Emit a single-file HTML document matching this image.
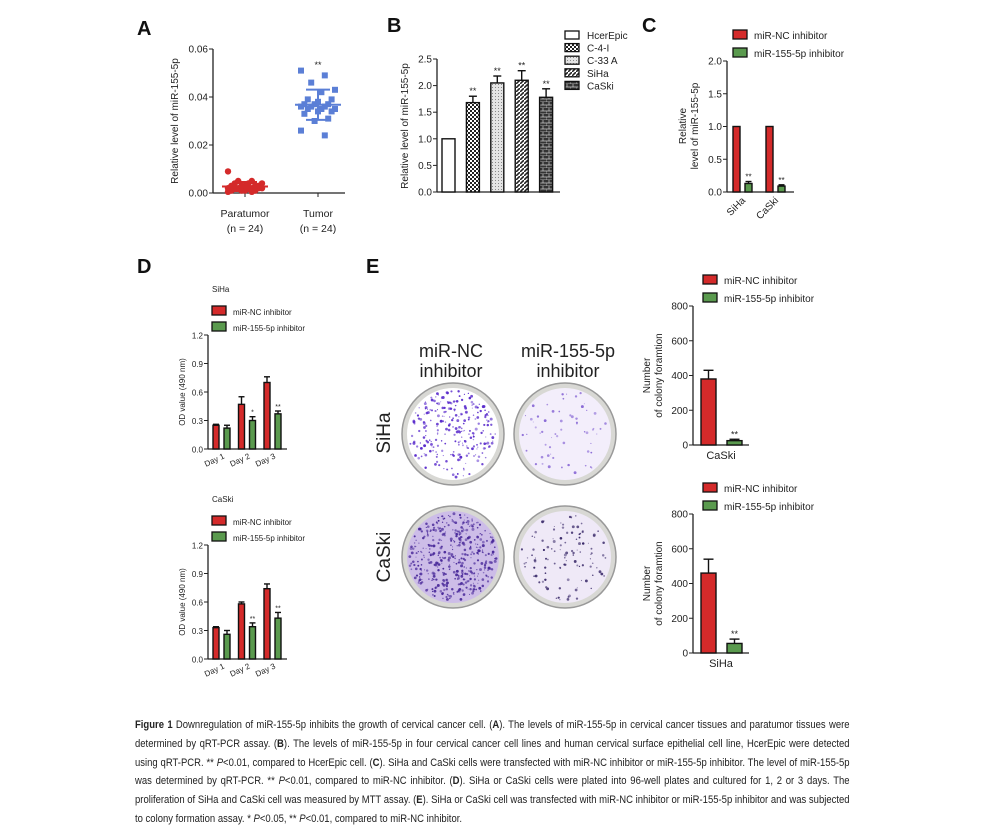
<!DOCTYPE html>
<html><head><meta charset="utf-8"><style>
body{margin:0;background:#fff;width:985px;height:832px;overflow:hidden;font-family:"Liberation Sans",sans-serif}
svg{position:absolute;left:0;top:0}
#cap{position:absolute;left:135px;top:716px;width:828px;font-size:11px;line-height:18.8px;color:#222;text-align:justify;transform:scaleX(0.863);transform-origin:0 0}
</style></head><body>
<svg id="s" width="985" height="712" font-family="Liberation Sans, sans-serif">
<defs>
<pattern id="pCheck" width="4" height="4" patternUnits="userSpaceOnUse"><rect width="4" height="4" fill="#fff"/><rect width="2" height="2" fill="#222"/><rect x="2" y="2" width="2" height="2" fill="#222"/></pattern>
<pattern id="pDot" width="3" height="3" patternUnits="userSpaceOnUse"><rect width="3" height="3" fill="#e4e4e4"/><rect width="1" height="1" fill="#888"/></pattern>
<pattern id="pDiag" width="4" height="4" patternUnits="userSpaceOnUse"><rect width="4" height="4" fill="#fff"/><path d="M0,4 L4,0" stroke="#222" stroke-width="1.6"/></pattern>
<pattern id="pBrick" width="6" height="6" patternUnits="userSpaceOnUse"><rect width="6" height="6" fill="#333"/><path d="M0,3H6M0,6H6M3,0V3M0,3V6" stroke="#ccc" stroke-width="0.7"/></pattern>
</defs>
</svg>
<div id="cap"><b>Figure 1</b> Downregulation of miR-155-5p inhibits the growth of cervical cancer cell. (<b>A</b>). The levels of miR-155-5p in cervical cancer tissues and paratumor tissues were determined by qRT-PCR assay. (<b>B</b>). The levels of miR-155-5p in four cervical cancer cell lines and human cervical surface epithelial cell line, HcerEpic were detected using qRT-PCR. ** <i>P</i>&lt;0.01, compared to HcerEpic cell. (<b>C</b>). SiHa and CaSki cells were transfected with miR-NC inhibitor or miR-155-5p inhibitor. The level of miR-155-5p was determined by qRT-PCR. ** <i>P</i>&lt;0.01, compared to miR-NC inhibitor. (<b>D</b>). SiHa or CaSki cells were plated into 96-well plates and cultured for 1, 2 or 3 days. The proliferation of SiHa and CaSki cell was measured by MTT assay. (<b>E</b>). SiHa or CaSki cell was transfected with miR-NC inhibitor or miR-155-5p inhibitor and was subjected to colony formation assay. * <i>P</i>&lt;0.05, ** <i>P</i>&lt;0.01, compared to miR-NC inhibitor.</div>
<script>
// ---- data ----
const aParatumor=[0.009,0.005,0.005,0.004,0.004,0.004,0.003,0.003,0.003,0.003,0.003,0.002,0.002,0.002,0.002,0.002,0.002,0.002,0.001,0.001,0.001,0.001,0.0005,0.0005];
const aTumor=[0.051,0.049,0.046,0.043,0.042,0.039,0.039,0.038,0.037,0.037,0.037,0.036,0.036,0.036,0.035,0.035,0.035,0.034,0.034,0.033,0.031,0.030,0.026,0.024];
const aTicks=[0,0.02,0.04,0.06];
const bCats=["HcerEpic","C-4-I","C-33 A","SiHa","CaSki"];
const bVals=[1.0,1.68,2.05,2.1,1.78];
const bErr=[0,0.12,0.13,0.18,0.16];
const bTicks=[0,0.5,1.0,1.5,2.0,2.5];
const cCats=["SiHa","CaSki"];
const cNC=[1.0,1.0];
const cInh=[0.13,0.09];
const cInhErr=[0.03,0.02];
const cTicks=[0,0.5,1.0,1.5,2.0];
const dDays=["Day 1","Day 2","Day 3"];
const dSiHaNC=[0.25,0.47,0.70], dSiHaNCErr=[0.01,0.08,0.06];
const dSiHaInh=[0.22,0.30,0.37], dSiHaInhErr=[0.03,0.04,0.03];
const dSiHaStars=["","*","**"];
const dCaSkiNC=[0.33,0.58,0.74], dCaSkiNCErr=[0.01,0.02,0.05];
const dCaSkiInh=[0.26,0.34,0.43], dCaSkiInhErr=[0.04,0.04,0.06];
const dCaSkiStars=["","**","**"];
const dTicks=[0,0.3,0.6,0.9,1.2];
const eCaSki=[380,25], eCaSkiErr=[50,8];
const eSiHa=[460,55], eSiHaErr=[80,25];
const eTicks=[0,200,400,600,800];

const S=document.getElementById('s');const NS='http://www.w3.org/2000/svg';
function el(t,a,p){const e=document.createElementNS(NS,t);for(const k in a)e.setAttribute(k,a[k]);(p||S).appendChild(e);return e;}
function txt(x,y,s,a,p){const e=el('text',Object.assign({x:x,y:y,'font-size':10,fill:'#222'},a||{}),p);e.textContent=s;return e;}
function grp(name){const g=el('g',{});return g;}
function lin(d0,d1,r0,r1){return v=>r0+(v-d0)/(d1-d0)*(r1-r0);}
function yAxis(g,x,y,ticks,fmt,fs){const x1=x;el('line',{x1:x1,x2:x1,y1:y(ticks[ticks.length-1]),y2:y(ticks[0]),stroke:'#222','stroke-width':1.3},g);
 ticks.forEach(t=>{el('line',{x1:x1-4,x2:x1,y1:y(t),y2:y(t),stroke:'#222','stroke-width':1},g);txt(x1-5,y(t)+3.5,fmt(t),{'text-anchor':'end','font-size':fs},g);});}
function letter(x,y,s){const g=grp('panel-label-'+s.toLowerCase());txt(x,y,s,{'font-size':20,'font-weight':'bold',fill:'#111'},g);}
function ytitle(g,x,y,lines,fs){lines.forEach((l,i)=>txt(0,0,l,{'font-size':fs,'text-anchor':'middle',transform:`translate(${x+i*(fs+2)},${y}) rotate(-90)`},g));}
function bar(g,x,w,y0,y1,fill,name){const r=el('rect',{x:x,y:Math.min(y0,y1),width:w,height:Math.abs(y0-y1),fill:fill,stroke:'#111','stroke-width':1.4},g);return r;}
function err(g,cx,yv,ye,w){el('line',{x1:cx,x2:cx,y1:yv,y2:ye,stroke:'#111','stroke-width':1.4},g);el('line',{x1:cx-w,x2:cx+w,y1:ye,y2:ye,stroke:'#111','stroke-width':1.4},g);}
function legend(g,x,y,dy,items,fs){items.forEach((it,i)=>{const r=el('rect',{x:x,y:y+i*dy-5,width:14,height:9,fill:it[1],stroke:'#111','stroke-width':1.3},g);txt(x+21,y+i*dy+4,it[0],{'font-size':fs},g);});}

// ---- Panel A ----
letter(137,35,'A');
(function(){const g=grp('panel-a-scatter');const y=lin(0,0.06,193,49);
 yAxis(g,213,y,aTicks,t=>t.toFixed(2),10);
 el('line',{x1:213,x2:345,y1:193,y2:193,stroke:'#222','stroke-width':1.3},g);
 [245,318].forEach(x=>el('line',{x1:x,x2:x,y1:193,y2:197,stroke:'#222'},g));
 ytitle(g,178,121,['Relative level of miR-155-5p'],10);
 function jit(i){return ((i*7)%11-5)*3.4;}
 aParatumor.forEach((v,i)=>{const c=el('circle',{cx:245+jit(i),cy:y(v),r:3.2,fill:'#d42a2a'},g);});
 aTumor.forEach((v,i)=>{const r=el('rect',{x:318+jit(i)-3,y:y(v)-3,width:6,height:6,fill:'#5b7fd6'},g);});
 function stats(a){const m=a.reduce((s,v)=>s+v,0)/a.length;const sd=Math.sqrt(a.reduce((s,v)=>s+(v-m)*(v-m),0)/(a.length-1));return [m,sd];}
 [[aParatumor,245,'#d42a2a'],[aTumor,318,'#5b7fd6']].forEach(([a,cx,col])=>{const [m,sd]=stats(a);
  el('line',{x1:cx-23,x2:cx+23,y1:y(m),y2:y(m),stroke:col,'stroke-width':2},g);
  el('line',{x1:cx,x2:cx,y1:y(m-sd),y2:y(m+sd),stroke:col,'stroke-width':2},g);
  el('line',{x1:cx-12,x2:cx+12,y1:y(m-sd),y2:y(m-sd),stroke:col,'stroke-width':2},g);
  el('line',{x1:cx-12,x2:cx+12,y1:y(m+sd),y2:y(m+sd),stroke:col,'stroke-width':2},g);});
 txt(318,68,'**',{'text-anchor':'middle','font-size':9},g);
 txt(245,217,'Paratumor',{'text-anchor':'middle','font-size':10.5},g);txt(245,232,'(n = 24)',{'text-anchor':'middle','font-size':10.5},g);
 txt(318,217,'Tumor',{'text-anchor':'middle','font-size':10.5},g);txt(318,232,'(n = 24)',{'text-anchor':'middle','font-size':10.5},g);
})();

// ---- Panel B ----
letter(387,32,'B');
(function(){const g=grp('panel-b-bar-chart');const y=lin(0,2.5,192,59);
 yAxis(g,437,y,bTicks,t=>t.toFixed(1),10);
 el('line',{x1:437,x2:560,y1:192,y2:192,stroke:'#222','stroke-width':1.3},g);
 ytitle(g,408,126,['Relative level of miR-155-5p'],10);
 const fills=['#fff','url(#pCheck)','url(#pDot)','url(#pDiag)','url(#pBrick)'];
 bCats.forEach((c,i)=>{const x=442+i*24.4;bar(g,x,13,y(0),y(bVals[i]),fills[i],'bar-'+c.toLowerCase().replace(/ /g,''));
  if(bErr[i]>0){err(g,x+6.5,y(bVals[i]),y(bVals[i]+bErr[i]),4);txt(x+6.5,y(bVals[i]+bErr[i])-2,'**',{'text-anchor':'middle','font-size':9},g);}});
 bCats.forEach((c,i)=>{const r=el('rect',{x:565,y:31+i*12.6,width:14,height:8,fill:fills[i],stroke:'#111','stroke-width':1.3},g);txt(587,39+i*12.6,c,{'font-size':10},g);});
})();

// ---- Panel C ----
letter(642,32,'C');
(function(){const g=grp('panel-c-bar-chart');const y=lin(0,2.0,192,61);
 yAxis(g,727,y,cTicks,t=>t.toFixed(1),10);
 el('line',{x1:727,x2:794,y1:192,y2:192,stroke:'#222','stroke-width':1.3},g);
 ytitle(g,686,126,['Relative','level of miR-155-5p'],10);
 cCats.forEach((c,i)=>{const x=733+i*33;bar(g,x,7,y(0),y(cNC[i]),'#d42a2a','bar-nc-'+c.toLowerCase());
  bar(g,x+12,7,y(0),y(cInh[i]),'#5a9a4e','bar-inhibitor-'+c.toLowerCase());
  err(g,x+15.5,y(cInh[i]),y(cInh[i]+cInhErr[i]),3);txt(x+15.5,y(cInh[i]+cInhErr[i])-2,'**',{'text-anchor':'middle','font-size':8},g);
  txt(0,0,c,{'font-size':10,'text-anchor':'end',transform:`translate(${x+13},${201}) rotate(-45)`},g);});
 legend(g,733,35,18,[['miR-NC inhibitor','#d42a2a'],['miR-155-5p inhibitor','#5a9a4e']],10);
})();

// ---- Panel D ----
letter(137,273,'D');
function dChart(name,title,top,nc,ncE,inh,inhE,stars){const g=grp(name);
 txt(212,top,title,{'font-size':8},g);
 legend(g,212,top+19,16,[['miR-NC inhibitor','#d42a2a'],['miR-155-5p inhibitor','#5a9a4e']],8);
 const y0=top+157,y1=top+43;const y=lin(0,1.2,y0,y1);
 yAxis(g,208,y,dTicks,t=>t.toFixed(1),8);
 el('line',{x1:208,x2:287,y1:y0,y2:y0,stroke:'#222','stroke-width':1.3},g);
 ytitle(g,185,(y0+y1)/2,['OD value (490 nm)'],8);
 dDays.forEach((d,i)=>{const x=213+i*25.5;bar(g,x,6,y(0),y(nc[i]),'#d42a2a','bar-nc-day'+(i+1));
  err(g,x+3,y(nc[i]),y(nc[i]+ncE[i]),3);
  bar(g,x+11,6,y(0),y(inh[i]),'#5a9a4e','bar-inhibitor-day'+(i+1));
  err(g,x+14,y(inh[i]),y(inh[i]+inhE[i]),3);
  if(stars[i])txt(x+14,y(inh[i]+inhE[i])-2,stars[i],{'text-anchor':'middle','font-size':7},g);
  txt(0,0,d,{'font-size':8,'text-anchor':'end',transform:`translate(${x+12},${y0+9}) rotate(-25)`},g);});
}
dChart('panel-d-siha-chart','SiHa',292,dSiHaNC,dSiHaNCErr,dSiHaInh,dSiHaInhErr,dSiHaStars);
dChart('panel-d-caski-chart','CaSki',502,dCaSkiNC,dCaSkiNCErr,dCaSkiInh,dCaSkiInhErr,dCaSkiStars);

// ---- Panel E dishes ----
letter(366,273,'E');
(function(){const g=grp('panel-e-colony-images');
 [['miR-NC','inhibitor',451],['miR-155-5p','inhibitor',568]].forEach(h=>{txt(h[2],357,h[0],{'font-size':18,'text-anchor':'middle'},g);txt(h[2],377,h[1],{'font-size':18,'text-anchor':'middle'},g);});
 [['SiHa',433],['CaSki',557]].forEach(r=>txt(0,0,r[0],{'font-size':19,'text-anchor':'middle',transform:`translate(390,${r[1]}) rotate(-90)`},g));
 let seed=7;function rnd(){seed=(seed*16807)%2147483647;return seed/2147483647;}
 const dishes=[[453,434,260,'#5a2ccc','#fff'],[565,434,60,'#8a6ad6','#f3eefb'],[453,557,420,'#4a2a9a','#cdbde8'],[565,557,110,'#3a2a6a','#efe9f7']];
 dishes.forEach((d,k)=>{const dg=el('g',{},g);
  el('circle',{cx:d[0],cy:d[1],r:51,fill:'#d8d8d4',stroke:'#999','stroke-width':1.5},dg);
  el('circle',{cx:d[0],cy:d[1],r:46,fill:d[4]},dg);
  for(let i=0;i<d[2];i++){const a=rnd()*6.283,rr=Math.sqrt(rnd())*44;el('circle',{cx:d[0]+rr*Math.cos(a),cy:d[1]+rr*Math.sin(a),r:0.5+rnd()*1.0,fill:d[3],opacity:0.5+rnd()*0.5},dg);}
 });
})();

// ---- Panel E charts ----
function eChart(name,top,vals,errs,lab){const g=grp(name);
 legend(g,703,top,18,[['miR-NC inhibitor','#d42a2a'],['miR-155-5p inhibitor','#5a9a4e']],10);
 const y0=top+165,y1=top+26;const y=lin(0,800,y0,y1);
 yAxis(g,693,y,eTicks,t=>String(t),10);
 el('line',{x1:693,x2:749,y1:y0,y2:y0,stroke:'#222','stroke-width':1.3},g);
 ytitle(g,650,(y0+y1)/2,['Number','of colony foramtion'],10);
 bar(g,701,15,y0,y(vals[0]),'#d42a2a','bar-nc');err(g,708.5,y(vals[0]),y(vals[0]+errs[0]),5);
 bar(g,727,15,y0,y(vals[1]),'#5a9a4e','bar-inhibitor');err(g,734.5,y(vals[1]),y(vals[1]+errs[1]),5);
 txt(734.5,y(vals[1]+errs[1])-2,'**',{'text-anchor':'middle','font-size':9},g);
 txt(721,y0+14,lab,{'text-anchor':'middle','font-size':11},g);
}
eChart('panel-e-caski-chart',280,eCaSki,eCaSkiErr,'CaSki');
eChart('panel-e-siha-chart',488,eSiHa,eSiHaErr,'SiHa');
</script>
</body></html>
